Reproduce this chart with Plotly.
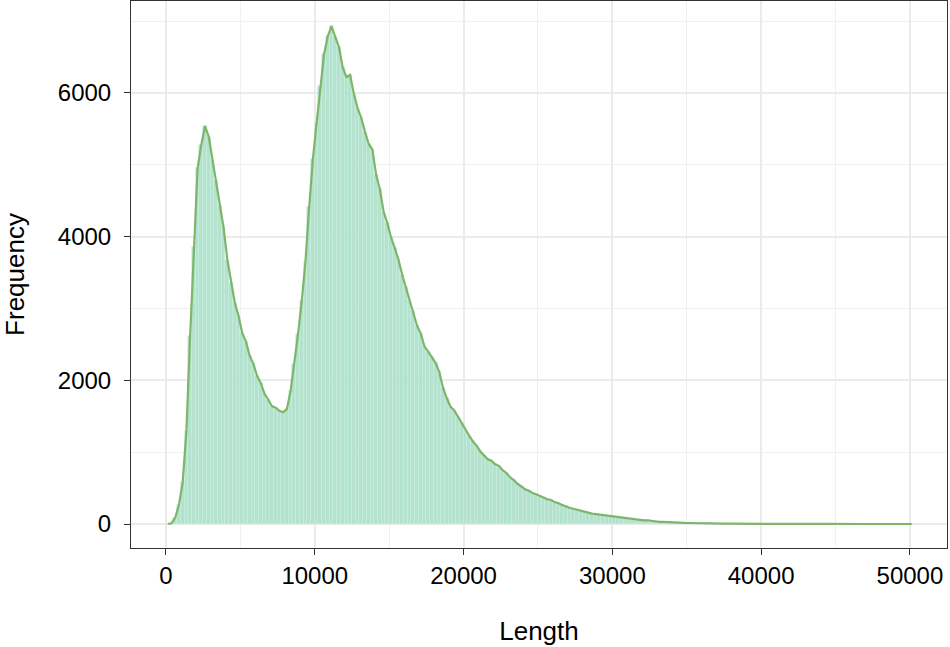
import numpy as np
import plotly.graph_objects as go

BIN_WIDTH = 250
FIRST_CENTER = 125

# read lengths per bin (counts), bin centres start at 125 and step by 250
counts = [
    0, 10, 90, 270, 580, 1300, 2620, 3850, 4950, 5280,
    5540, 5390, 5060, 4780, 4430, 4120, 3680, 3360, 3080, 2900,
    2660, 2540, 2340, 2230, 2060, 1960, 1810, 1730, 1640, 1620,
    1575, 1555, 1600, 1850, 2230, 2640, 3100, 3650, 4410, 5080,
    5580, 6090, 6540, 6790, 6930, 6780, 6640, 6360, 6220, 6250,
    5990, 5790, 5650, 5460, 5290, 5210, 4860, 4660, 4350, 4190,
    3990, 3840, 3680, 3470, 3300, 3110, 2960, 2760, 2650, 2470,
    2400, 2320, 2240, 2110, 1890, 1750, 1630, 1580, 1490, 1410,
    1300, 1230, 1150, 1090, 1010, 960, 900, 880, 830, 810,
    750, 710, 650, 610, 560, 525, 485, 465, 432, 415,
    390, 372, 345, 335, 305, 290, 262, 245, 226, 212,
    195, 180, 162, 158, 145, 138, 126, 122, 112, 108,
    100, 94, 85, 80, 72, 67, 60, 57, 50, 52,
    42, 33, 30, 29, 25, 23, 20, 19, 17, 15,
    14, 12, 11, 10, 9, 8, 8, 7, 6, 6,
    5, 5, 4, 4, 4, 3, 3, 3, 3, 2,
    2, 2, 2, 2, 2, 2, 1, 1, 1, 1,
    1, 1, 1, 1, 1, 1, 1, 1, 0, 1,
    0, 1, 0, 0, 1, 0, 0, 0, 0, 0,
    0, 0, 0, 1, 0, 0, 0, 0, 0, 0,
    0,
]

x_ticks = [0, 10000, 20000, 30000, 40000, 50000]
y_ticks = [0, 2000, 4000, 6000]

centers = FIRST_CENTER + BIN_WIDTH * np.arange(len(counts))

FILL = "#b3e2cd"
LINE = "#7db66b"
FONT = "Liberation Sans, Arial, Helvetica, sans-serif"

fig = go.Figure()
fig.add_trace(go.Bar(
    x=centers, y=counts, width=BIN_WIDTH,
    marker=dict(color=FILL, line=dict(color="#c9ece0", width=0.6)),
    hoverinfo="skip",
))
fig.add_trace(go.Scatter(
    x=centers, y=counts, mode="lines",
    line=dict(color=LINE, width=2.2),
))

axis_common = dict(
    showline=True, mirror=True, linecolor="#333333", linewidth=1,
    ticks="outside", ticklen=6, tickcolor="#333333", tickwidth=1,
    gridcolor="#ebebeb", gridwidth=1.6, zeroline=False,
    tickformat="d", automargin=False,
    tickfont=dict(family=FONT, size=24, color="black"),
)

fig.update_layout(
    width=950, height=647,
    margin=dict(l=131, r=3, t=1, b=99),
    plot_bgcolor="white", paper_bgcolor="white",
    showlegend=False, bargap=0,
    font=dict(family=FONT, color="black"),
    xaxis=dict(
        range=[-2350, 52490], tickvals=x_ticks,
        minor=dict(dtick=5000, tick0=0, showgrid=True, gridcolor="#f0f0f0", gridwidth=1, ticks=""),
        title=dict(text="Length", font=dict(size=26), standoff=34),
        ticklabelstandoff=0,
        **axis_common,
    ),
    yaxis=dict(
        range=[-334, 7280], tickvals=y_ticks,
        minor=dict(dtick=1000, tick0=0, showgrid=True, gridcolor="#f0f0f0", gridwidth=1, ticks=""),
        title=dict(text="Frequency", font=dict(size=26), standoff=38),
        ticklabelstandoff=8,
        **axis_common,
    ),
)

# page body has a default 8px margin; drop it so the figure sits at the corner
fig.write_html("out.html", config={"displayModeBar": False},
               post_script="document.body.style.margin='0';")
